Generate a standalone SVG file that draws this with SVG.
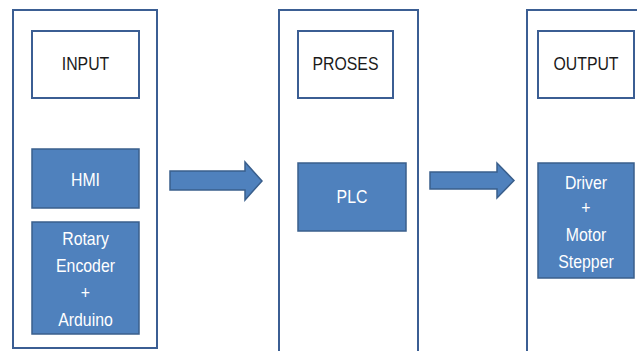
<svg xmlns="http://www.w3.org/2000/svg" width="637" height="351" viewBox="0 0 637 351">
<defs>
<style>
.outer{fill:#ffffff;stroke:#3b5e93;stroke-width:2}
.title{fill:#ffffff;stroke:#3b5e93;stroke-width:2}
.blue{fill:#4f81bd;stroke:#3a5f8c;stroke-width:1.5}
.arrow{fill:#4f81bd;stroke:#3a5f8c;stroke-width:1.5}
.t{font-family:"Liberation Sans",Arial,sans-serif;font-size:18px;text-anchor:middle;dominant-baseline:central}
.dk{fill:#1a1a1a}
.wt{fill:#ffffff}
</style>
</defs>
<rect width="637" height="351" fill="#ffffff"/>
<g id="input">
<rect class="outer" x="13" y="10" width="144" height="338"/>
<rect class="title" x="32" y="31" width="107" height="67"/>
<text class="t dk" transform="translate(85.5,64) scale(0.88,1)">INPUT</text>
</g>
<g id="hmi">
<rect class="blue" x="32" y="149" width="107" height="59"/>
<text class="t wt" transform="translate(85.5,180) scale(0.88,1)">HMI</text>
</g>
<g id="rotary">
<rect class="blue" x="32" y="222" width="107" height="112"/>
<text class="t wt" transform="translate(85.5,239) scale(0.88,1)">Rotary</text>
<text class="t wt" transform="translate(85.5,266) scale(0.88,1)">Encoder</text>
<text class="t wt" transform="translate(85.5,293) scale(0.88,1)">+</text>
<text class="t wt" transform="translate(85.5,320) scale(0.88,1)">Arduino</text>
</g>
<g id="proses">
<rect class="outer" x="279" y="10" width="139" height="345"/>
<rect class="title" x="298" y="31" width="95" height="67"/>
<text class="t dk" transform="translate(345.5,64) scale(0.88,1)">PROSES</text>
</g>
<g id="plc">
<rect class="blue" x="298" y="163" width="108" height="68"/>
<text class="t wt" transform="translate(352,197) scale(0.88,1)">PLC</text>
</g>
<g id="output">
<rect class="outer" x="527" y="10" width="120" height="345"/>
<rect class="title" x="538" y="31" width="96" height="67"/>
<text class="t dk" transform="translate(586,64) scale(0.88,1)">OUTPUT</text>
</g>
<g id="driver">
<rect class="blue" x="538" y="163" width="96" height="115"/>
<text class="t wt" transform="translate(586,183) scale(0.88,1)">Driver</text>
<text class="t wt" transform="translate(586,208) scale(0.88,1)">+</text>
<text class="t wt" transform="translate(586,235) scale(0.88,1)">Motor</text>
<text class="t wt" transform="translate(586,262) scale(0.88,1)">Stepper</text>
</g>
<g id="connectors">
<polygon class="arrow" points="170,171 245,171 245,162 262,181 245,200 245,190 170,190"/>
<polygon class="arrow" points="430,172 497,172 497,163 514,180.5 497,198 497,189 430,189"/>
</g>
</svg>
